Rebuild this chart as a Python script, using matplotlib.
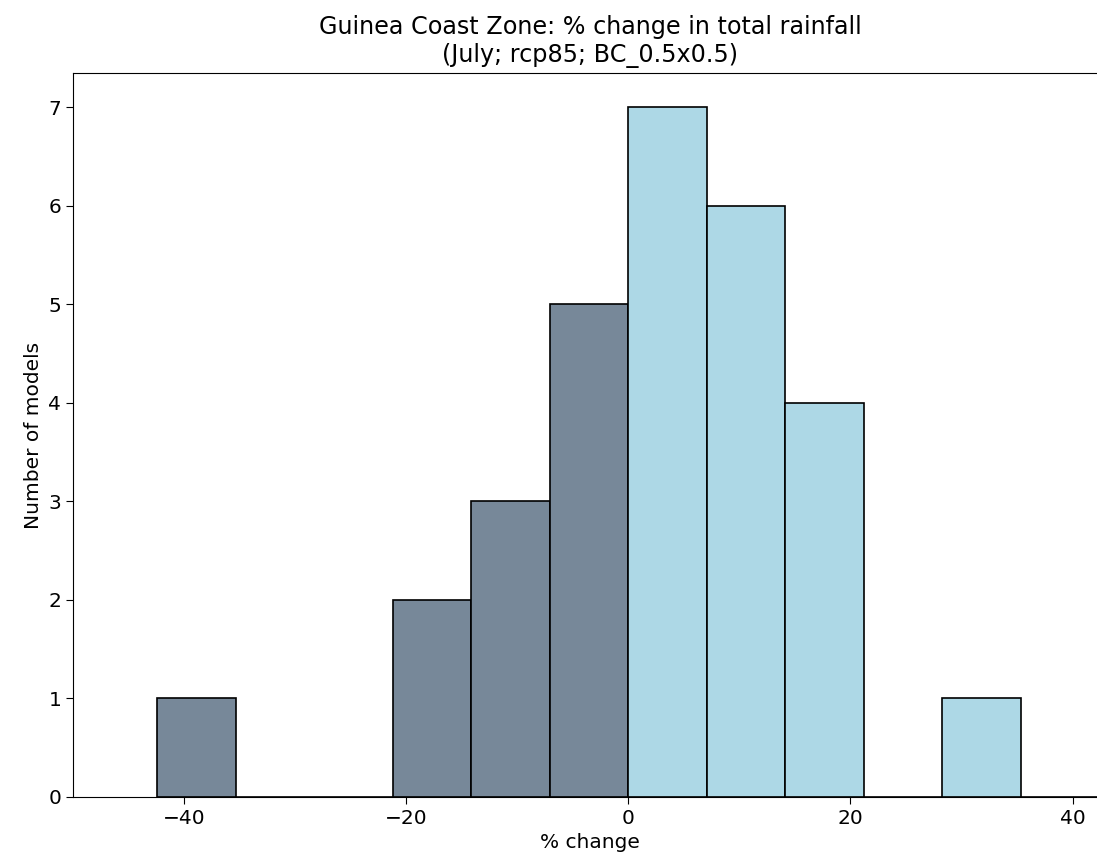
import numpy as np
import matplotlib.pyplot as plt

# Histogram data
bin_edges = np.linspace(-42.42, 42.42, 13)
counts = [1, 0, 0, 2, 3, 5, 7, 6, 4, 0, 1, 0]

neg_color = "lightslategray"
pos_color = "lightblue"

fig = plt.figure(figsize=(10.97, 8.67), dpi=100)
ax = fig.add_axes([73 / 1097, 70 / 867, 1034 / 1097, 724 / 867])

widths = np.diff(bin_edges)
colors = [neg_color if e < 0 else pos_color for e in bin_edges[:-1]]
ax.bar(bin_edges[:-1], counts, width=widths, align="edge",
       color=colors, edgecolor="black", linewidth=1.2)

ax.set_xlim(-50, 43.1)
ax.set_ylim(0, 7.35)
ax.tick_params(labelsize=14.5, length=5)

ax.set_title("Guinea Coast Zone: % change in total rainfall\n(July; rcp85; BC_0.5x0.5)",
             fontsize=17.2, pad=8)
ax.set_xlabel("% change", fontsize=14.5)
ax.set_ylabel("Number of models", fontsize=14.5)

fig.savefig("out.png", dpi=100)
